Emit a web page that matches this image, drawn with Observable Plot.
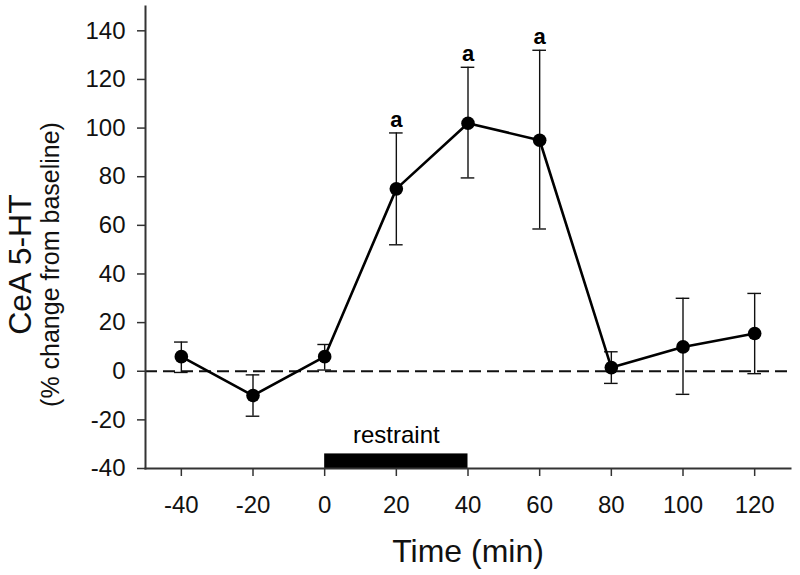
<!DOCTYPE html>
<html>
<head>
<meta charset="utf-8">
<script src="https://cdn.jsdelivr.net/npm/d3@7"></script>
<script src="https://cdn.jsdelivr.net/npm/@observablehq/plot@0.6"></script>
<style>
  html, body { margin: 0; padding: 0; background: #fff; }
</style>
</head>
<body>
<div id="chart"></div>
<script>
// Data
const times = [-40, -20, 0, 20, 40, 60, 80, 100, 120];
const means = [6, -10, 6, 75, 102, 95, 1.5, 10, 15.5];
const upper = [12, -1.5, 11, 98, 125, 132, 8, 30, 32];
const lower = [-0.5, -18.5, 0.5, 52, 79.5, 58.5, -5, -9.5, -1];
const sigLabels = ["", "", "", "a", "a", "a", "", "", ""];
const xTicks = [-40, -20, 0, 20, 40, 60, 80, 100, 120];
const yTicks = [-40, -20, 0, 20, 40, 60, 80, 100, 120, 140];
const restraintStart = [0];
const restraintEnd = [40];
const restraintLabel = ["restraint"];

const data = times.map((t, i) => ({t, m: means[i], hi: upper[i], lo: lower[i], sig: sigLabels[i]}));
const restraint = restraintStart.map((s, i) => ({s, e: restraintEnd[i], label: restraintLabel[i]}));
const capHalf = 1.9;
const ink = "#111";

const chart = Plot.plot({
  width: 800,
  height: 575,
  marginLeft: 145,
  marginRight: 10,
  marginTop: 6,
  marginBottom: 107,
  style: {fontFamily: "'Liberation Sans', Arial, sans-serif", background: "#fff", color: ink},
  x: {domain: [-50, 130]},
  y: {domain: [-40, 150]},
  marks: [
    Plot.ruleY([0], {stroke: ink, strokeWidth: 2, strokeDasharray: "12,6"}),
    Plot.rect(restraint, {x1: "s", x2: "e", y1: -40, y2: -34, fill: "#000"}),
    Plot.text(restraint, {x: d => (d.s + d.e) / 2, y: -34, text: "label", dy: -19, fontSize: 24, fill: "#000"}),
    Plot.ruleX(data, {x: "t", y1: "lo", y2: "hi", stroke: ink, strokeWidth: 1.4}),
    Plot.ruleY(data, {y: "hi", x1: d => d.t - capHalf, x2: d => d.t + capHalf, stroke: ink, strokeWidth: 1.4}),
    Plot.ruleY(data, {y: "lo", x1: d => d.t - capHalf, x2: d => d.t + capHalf, stroke: ink, strokeWidth: 1.4}),
    Plot.line(data, {x: "t", y: "m", stroke: "#000", strokeWidth: 2.6}),
    Plot.dot(data, {x: "t", y: "m", r: 6.8, fill: "#000", stroke: "none"}),
    Plot.text(data.filter(d => d.sig), {x: "t", y: "hi", text: "sig", dy: -13, fontSize: 22, fontWeight: "bold", fill: "#000"}),
    Plot.frame({anchor: "left", stroke: "#333", strokeWidth: 2}),
    Plot.frame({anchor: "bottom", stroke: "#333", strokeWidth: 2}),
    Plot.axisY({ticks: yTicks, tickFormat: d => String(d), tickSize: 8, tickPadding: 12, fontSize: 24, label: null, stroke: "#333", strokeWidth: 1.5, fill: ink}),
    Plot.axisX({ticks: xTicks, tickFormat: d => String(d), tickSize: 8, tickPadding: 19, fontSize: 24, label: null, stroke: "#333", strokeWidth: 1.5, fill: ink}),
    Plot.text(["Time (min)"], {frameAnchor: "bottom", dy: 93, fontSize: 32, fill: ink}),
    Plot.text(["CeA 5-HT"], {frameAnchor: "left", textAnchor: "middle", dx: -125, dy: 27, rotate: -90, fontSize: 32, fill: ink}),
    Plot.text(["(% change from baseline)"], {frameAnchor: "left", textAnchor: "middle", dx: -95, dy: 27, rotate: -90, fontSize: 25, fill: ink})
  ]
});
document.getElementById("chart").appendChild(chart);
</script>
</body>
</html>
